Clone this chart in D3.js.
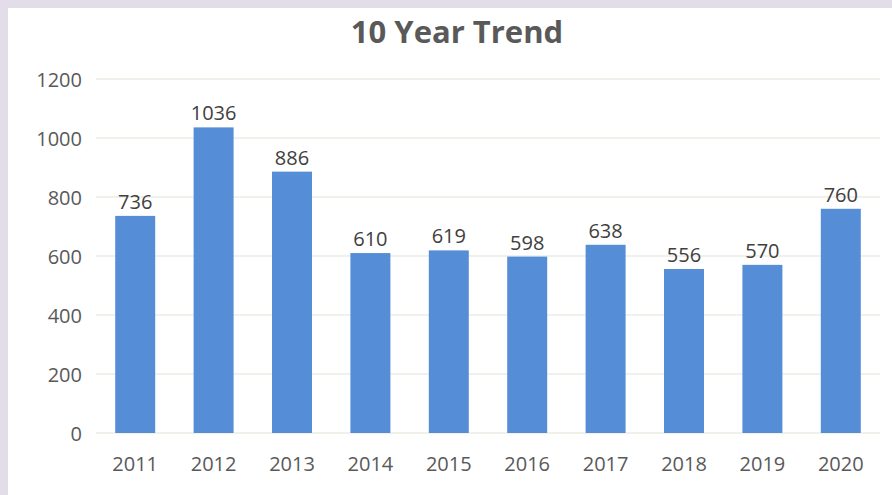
<!DOCTYPE html>
<html>
<head>
<meta charset="utf-8">
<script src="https://cdn.jsdelivr.net/npm/d3@7"></script>
<style>
  body { margin: 0; background: #e3dde9; }
  svg { display: block; }
</style>
</head>
<body>
<svg id="chart" width="892" height="495"></svg>
<script>
// chart data
const years = ["2011", "2012", "2013", "2014", "2015", "2016", "2017", "2018", "2019", "2020"];
const counts = [736, 1036, 886, 610, 619, 598, 638, 556, 570, 760];
const yTicks = [0, 200, 400, 600, 800, 1000, 1200];

const svg = d3.select("#chart");
const W = 892, H = 495;
const font = "'Open Sans', 'Noto Sans', sans-serif";

// white card with lavender frame top/left
svg.append("rect")
  .attr("x", 8).attr("y", 8)
  .attr("width", W - 8).attr("height", H - 8)
  .attr("fill", "#ffffff");

const plotLeft = 96, plotRight = 880, plotTop = 79, plotBottom = 433;

const x = d3.scaleBand()
  .domain(years)
  .range([plotLeft, plotRight])
  .paddingInner(0.49)
  .paddingOuter(0.245);

const y = d3.scaleLinear()
  .domain([0, 1200])
  .range([plotBottom, plotTop]);

// gridlines
svg.append("g").selectAll("line")
  .data(yTicks)
  .enter().append("line")
  .attr("x1", plotLeft).attr("x2", plotRight)
  .attr("y1", d => y(d)).attr("y2", d => y(d))
  .attr("stroke", "#ecece6")
  .attr("stroke-width", 1.5);

// y axis labels
svg.append("g").selectAll("text")
  .data(yTicks)
  .enter().append("text")
  .attr("x", 82)
  .attr("y", d => y(d) + 8)
  .attr("text-anchor", "end")
  .attr("font-family", font)
  .attr("font-size", "20px")
  .attr("fill", "#595959")
  .text(d => d);

// bars
svg.append("g").selectAll("rect")
  .data(counts)
  .enter().append("rect")
  .attr("x", (d, i) => x(years[i]))
  .attr("y", d => y(d))
  .attr("width", x.bandwidth())
  .attr("height", d => plotBottom - y(d))
  .attr("fill", "#558ed6");

// value labels
svg.append("g").selectAll("text")
  .data(counts)
  .enter().append("text")
  .attr("x", (d, i) => x(years[i]) + x.bandwidth() / 2)
  .attr("y", d => y(d) - 7)
  .attr("text-anchor", "middle")
  .attr("font-family", font)
  .attr("font-size", "20px")
  .attr("fill", "#404040")
  .text(d => d);

// x axis labels
svg.append("g").selectAll("text")
  .data(years)
  .enter().append("text")
  .attr("x", d => x(d) + x.bandwidth() / 2)
  .attr("y", 471)
  .attr("text-anchor", "middle")
  .attr("font-family", font)
  .attr("font-size", "20px")
  .attr("fill", "#595959")
  .text(d => d);

// title
svg.append("text")
  .attr("x", 457)
  .attr("y", 43)
  .attr("text-anchor", "middle")
  .attr("font-family", font)
  .attr("font-size", "31px")
  .attr("font-weight", "bold")
  .attr("fill", "#595959")
  .text("10 Year Trend");
</script>
</body>
</html>
